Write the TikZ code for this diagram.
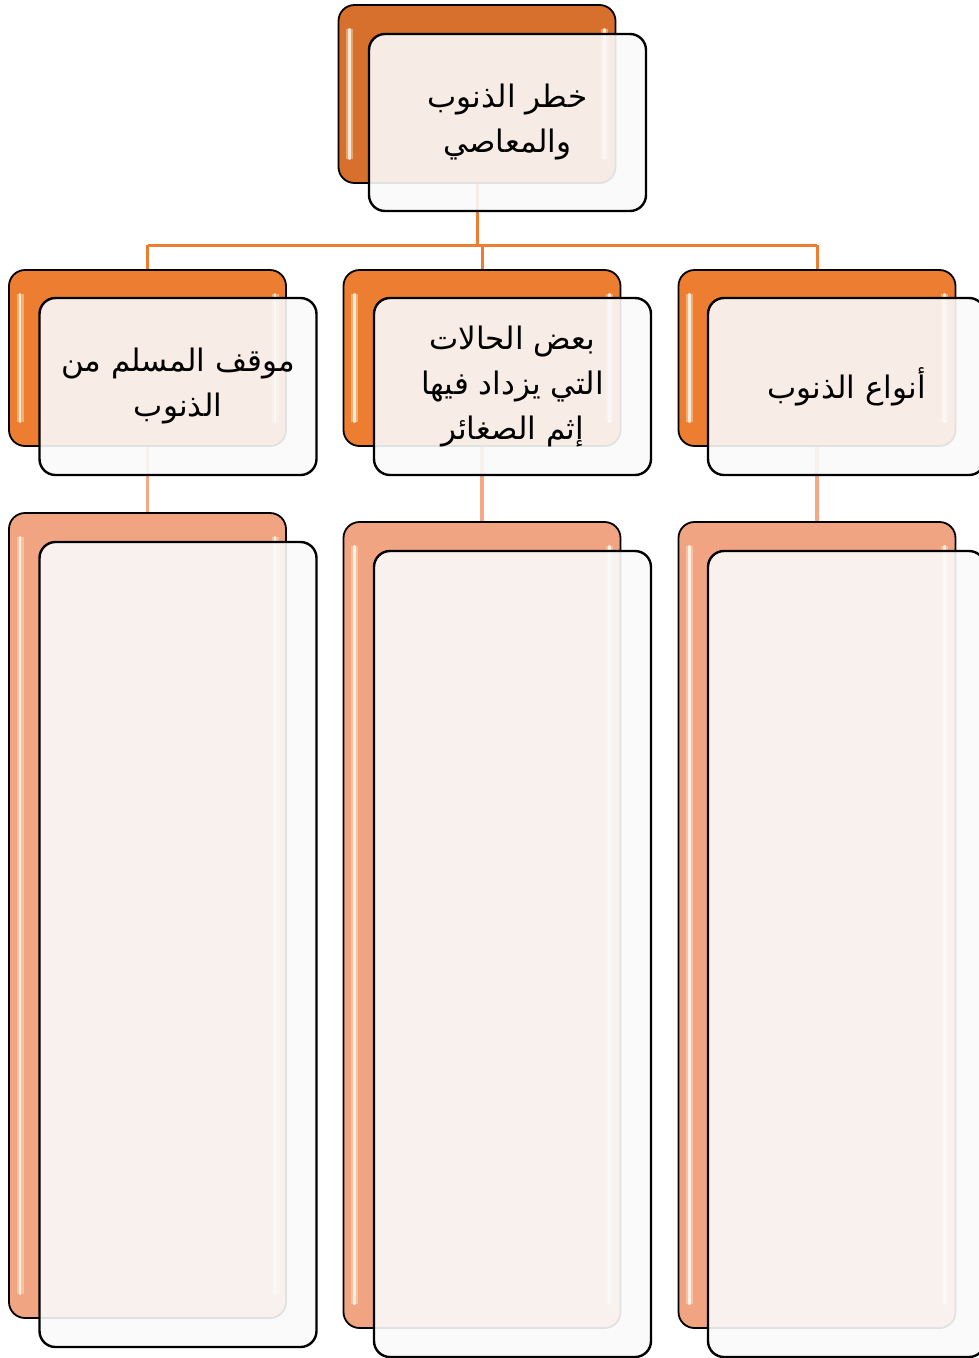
\documentclass[tikz,border=0pt]{standalone}
\usepackage{fontspec}
\newfontfamily\arabicfont[Script=Arabic]{DejaVu Sans}
\TeXXeTstate=1
\usetikzlibrary{backgrounds}
\definecolor{topor}{RGB}{214,112,44}
\definecolor{midor}{RGB}{237,125,49}
\definecolor{lowor}{RGB}{241,164,130}
\definecolor{frontfill}{RGB}{250,250,250}
\definecolor{linkor}{RGB}{237,125,49}
\definecolor{linklow}{RGB}{244,168,132}
\definecolor{glintc}{RGB}{255,232,190}
\newcommand{\artxt}[1]{\beginR #1\endR}
\newcommand{\glintpair}[1]{%
  \draw[glintline] ([xshift=11pt,yshift=-24pt]#1.north west) -- ([xshift=11pt,yshift=24pt]#1.south west);
  \draw[glintline] ([xshift=-11pt,yshift=-24pt]#1.north east) -- ([xshift=-11pt,yshift=24pt]#1.south east);}
\begin{document}
\begin{tikzpicture}[x=1pt,y=-1pt,
  backbox/.style={draw=black, line width=1.8pt, rounded corners=16pt, minimum width=277pt, inner sep=0pt, outer sep=0pt},
  frontbox/.style={draw=black, line width=2.4pt, rounded corners=16pt, fill=frontfill, fill opacity=0.9, draw opacity=1, text opacity=1, minimum width=277pt, inner sep=0pt, outer sep=0pt, text=black, font=\arabicfont\fontsize{31}{45}\selectfont, align=center},
  glintline/.style={line width=2.2pt, color=white, line cap=round, opacity=0.75, preaction={draw, line width=7pt, color=glintc, opacity=0.45}},
  link/.style={draw=linkor, line width=3pt},
  linklow/.style={draw=linklow, line width=3.2pt}]
\useasboundingbox (0,0) rectangle (979,1358);
\clip (0,0) rectangle (979,1358);
% back boxes
\node[backbox, fill=topor, minimum height=178pt] (tb) at (477,94) {};
\node[backbox, fill=midor, minimum height=176pt] (m1b) at (147.5,358) {};
\node[backbox, fill=midor, minimum height=176pt] (m2b) at (482,358) {};
\node[backbox, fill=midor, minimum height=176pt] (m3b) at (817,358) {};
\node[backbox, fill=lowor, minimum height=805pt] (b1b) at (147.5,915.5) {};
\node[backbox, fill=lowor, minimum height=806pt] (b2b) at (482,925) {};
\node[backbox, fill=lowor, minimum height=806pt] (b3b) at (817,925) {};
\glintpair{tb}
\glintpair{m1b}
\glintpair{m2b}
\glintpair{m3b}
\glintpair{b1b}
\glintpair{b2b}
\glintpair{b3b}
% front boxes
\node[frontbox, minimum height=177pt] (tf) at (507.5,122.5) {\artxt{خطر الذنوب}\\\artxt{والمعاصي}};
\node[frontbox, minimum height=177pt] (m1f) at (178,386.5) {\artxt{موقف المسلم من}\\\artxt{الذنوب}};
\node[frontbox, minimum height=177pt] (m2f) at (512.5,386.5) {\artxt{بعض الحالات}\\\artxt{التي يزداد فيها}\\\artxt{إثم الصغائر}};
\node[frontbox, minimum height=177pt] (m3f) at (846.5,386.5) {\artxt{أنواع الذنوب}};
\node[frontbox, minimum height=805pt] (b1f) at (178,944.5) {};
\node[frontbox, minimum height=806pt] (b2f) at (512.5,954) {};
\node[frontbox, minimum height=806pt] (b3f) at (846.5,954) {};
% connectors
\coordinate (bus) at (477,245);
\begin{scope}[on background layer]
\draw[link] (tb.center) -- (tb.center |- bus);
\draw[link] (m1b.center |- bus) -- (m3b.center |- bus);
\draw[link] (m1b.center |- bus) -- (m1b.center);
\draw[link] (m2b.center |- bus) -- (m2b.center);
\draw[link] (m3b.center |- bus) -- (m3b.center);
\draw[linklow] (m1b.center) -- (b1b.center);
\draw[linklow] (m2b.center) -- (b2b.center);
\draw[linklow] (m3b.center) -- (b3b.center);
\end{scope}
\end{tikzpicture}
\end{document}
